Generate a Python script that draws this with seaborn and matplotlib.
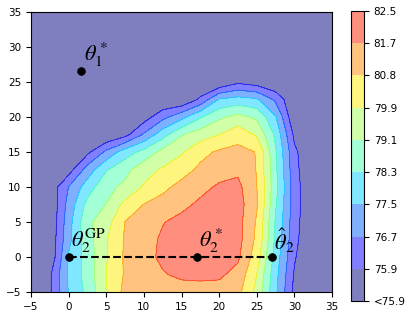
import numpy as np
import matplotlib
matplotlib.use("Agg")
import matplotlib.pyplot as plt
import seaborn as sns

# grid of the accuracy surface (rows = y, cols = x)
x_grid = [-5, -2.5, 0, 2.5, 5, 7.5, 10, 12.5, 15, 17.5, 20, 22.5, 25, 27.5, 30, 32.5, 35]
y_grid = [-5, -2.5, 0, 2.5, 5, 7.5, 10, 12.5, 15, 17.5, 20, 22.5, 25, 27.5, 30, 32.5, 35]
acc = [
    [75.1, 75.76, 77.54, 78.51, 79.84, 81.07, 81.34, 81.48, 81.34, 81.30, 81.34, 81.07, 79.64, 77.68, 75.66, 75.1, 75.1],
    [75.1, 75.76, 77.63, 78.63, 79.90, 80.90, 81.27, 81.64, 81.86, 81.94, 81.86, 81.40, 79.90, 77.76, 75.82, 75.1, 75.1],
    [75.1, 75.24, 77.60, 78.61, 79.83, 80.93, 81.43, 81.86, 82.02, 82.06, 82.02, 81.86, 80.31, 77.95, 75.98, 75.1, 75.1],
    [75.1, 75.26, 77.26, 78.78, 79.82, 80.90, 81.39, 81.82, 81.98, 82.06, 82.02, 82.02, 80.60, 78.14, 76.14, 75.1, 75.1],
    [75.1, 75.18, 77.18, 78.94, 79.50, 80.82, 81.23, 81.66, 81.94, 82.02, 82.06, 82.02, 80.70, 78.22, 76.22, 75.1, 75.1],
    [75.1, 75.17, 76.99, 78.54, 79.12, 80.13, 80.82, 81.14, 81.49, 81.86, 81.98, 82.10, 80.89, 78.38, 76.30, 75.1, 75.1],
    [75.1, 75.30, 76.72, 77.90, 78.90, 79.26, 79.99, 80.58, 81.07, 81.46, 81.82, 81.94, 80.82, 78.59, 76.27, 75.1, 75.1],
    [75.1, 75.10, 75.52, 77.03, 78.22, 78.86, 79.58, 79.99, 80.44, 80.98, 81.34, 81.52, 80.76, 78.46, 76.17, 75.1, 75.1],
    [75.1, 75.10, 75.10, 75.71, 76.88, 77.91, 78.56, 79.34, 79.78, 80.53, 80.94, 81.07, 80.77, 78.38, 76.08, 75.1, 75.1],
    [75.1, 75.10, 75.10, 75.10, 75.10, 75.62, 76.80, 77.97, 79.02, 79.50, 79.88, 80.44, 79.78, 78.14, 75.71, 75.1, 75.1],
    [75.1, 75.10, 75.10, 75.10, 75.10, 75.10, 75.50, 76.46, 77.26, 78.22, 78.94, 79.34, 78.96, 77.58, 75.18, 75.1, 75.1],
    [75.1, 75.10, 75.10, 75.10, 75.10, 75.10, 75.10, 75.10, 75.10, 76.05, 77.58, 77.82, 77.62, 76.54, 75.10, 75.1, 75.1],
    [75.1, 75.10, 75.10, 75.10, 75.10, 75.10, 75.10, 75.10, 75.10, 75.10, 75.10, 75.73, 75.47, 75.10, 75.10, 75.1, 75.1],
    [75.1, 75.10, 75.10, 75.10, 75.10, 75.10, 75.10, 75.10, 75.10, 75.10, 75.10, 75.10, 75.10, 75.10, 75.10, 75.1, 75.1],
    [75.1, 75.10, 75.10, 75.10, 75.10, 75.10, 75.10, 75.10, 75.10, 75.10, 75.10, 75.10, 75.10, 75.10, 75.10, 75.1, 75.1],
    [75.1, 75.10, 75.10, 75.10, 75.10, 75.10, 75.10, 75.10, 75.10, 75.10, 75.10, 75.10, 75.10, 75.10, 75.10, 75.1, 75.1],
    [75.1, 75.10, 75.10, 75.10, 75.10, 75.10, 75.10, 75.10, 75.10, 75.10, 75.10, 75.10, 75.10, 75.10, 75.10, 75.1, 75.1],
]

levels = [74.0, 75.9, 76.7, 77.5, 78.3, 79.1, 79.9, 80.8, 81.7, 82.5]
level_labels = ["<75.9", "75.9", "76.7", "77.5", "78.3", "79.1", "79.9", "80.8", "81.7", "82.5"]

# marked points
pt_names = [r"$\theta_1^*$", r"$\theta_2^{\mathrm{GP}}$", r"$\theta_2^*$", r"$\hat{\theta}_2$"]
pt_x = [1.7, 0, 17, 27]
pt_y = [26.6, 0, 0, 0]
path_x = [0, 27]
path_y = [0, 0]

sns.set_style("ticks")
plt.rcParams["mathtext.fontset"] = "stix"
plt.rcParams["xtick.labelsize"] = 7.5
plt.rcParams["ytick.labelsize"] = 7.5
plt.rcParams["text.color"] = "black"
plt.rcParams["xtick.color"] = "black"
plt.rcParams["ytick.color"] = "black"
plt.rcParams["axes.edgecolor"] = "black"

band_colors = plt.get_cmap("jet")(np.linspace(0, 0.875, 9))

fig = plt.figure(figsize=(4.15, 3.18), dpi=100)
ax = fig.add_axes([31 / 415, 26 / 318, 301 / 415, 280 / 318])
cax = fig.add_axes([351 / 415, 17 / 318, 13 / 415, 290 / 318])

X, Y = np.meshgrid(x_grid, y_grid)
Z = np.array(acc)
cs = ax.contourf(X, Y, Z, levels=levels, colors=band_colors, alpha=0.5)
ax.contour(X, Y, Z, levels=levels[1:-1], colors=band_colors[1:], alpha=0.4, linewidths=0.6)

sns.lineplot(x=path_x, y=path_y, ax=ax, color="black", linestyle="--", linewidth=1.5, zorder=4)
sns.scatterplot(x=pt_x, y=pt_y, ax=ax, color="black", s=32, edgecolor="black", zorder=5)
for name, px, py in zip(pt_names, pt_x, pt_y):
    ax.text(px + 0.3, py + 0.3, name, fontsize=16, color="black",
            ha="left", va="bottom", zorder=6)

ax.set_xlim(-5, 35)
ax.set_ylim(-5, 35)
ax.set_xticks(range(-5, 36, 5))
ax.set_yticks(range(-5, 36, 5))

cb = fig.colorbar(cs, cax=cax, ticks=levels)
cb.ax.set_yticklabels(level_labels)
cb.ax.tick_params(labelsize=7.5, colors="black")

fig.savefig("out.png", dpi=100)
